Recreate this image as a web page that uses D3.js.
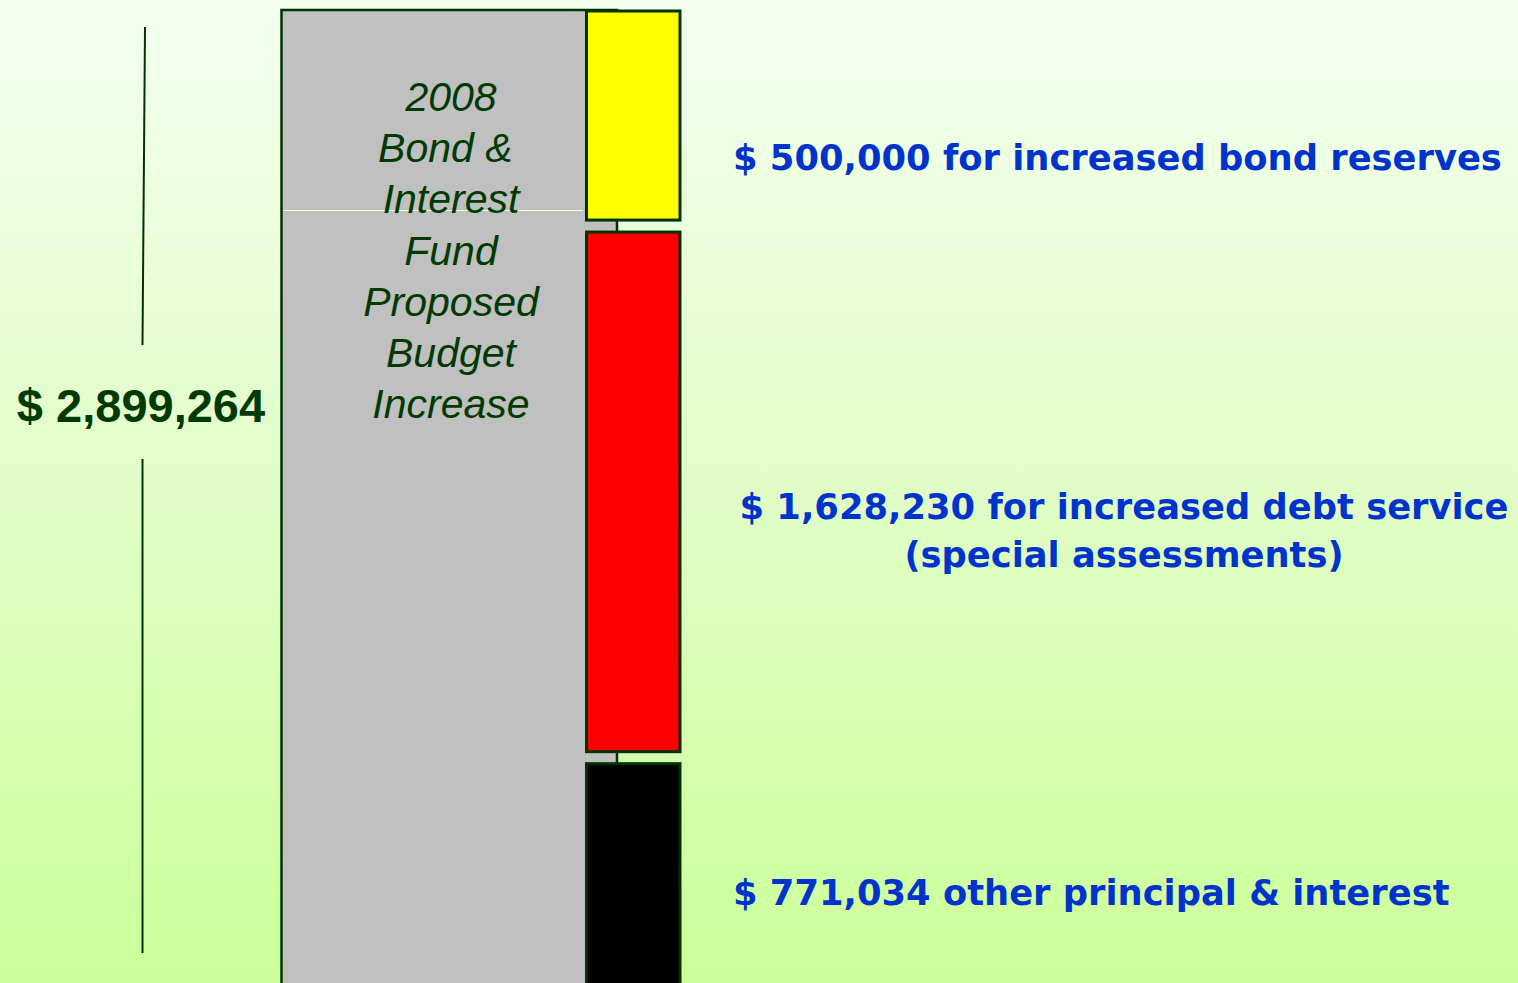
<!DOCTYPE html>
<html>
<head>
<meta charset="utf-8">
<script src="https://cdn.jsdelivr.net/npm/d3@7"></script>
<style>
  html, body { margin: 0; padding: 0; overflow: hidden; }
  svg { display: block; }
</style>
</head>
<body>
<svg id="chart" width="1518" height="983"></svg>
<script>
// ---- data ----
const categories = ["bond reserves", "debt service", "other principal & interest"];
const values = [500000, 1628230, 771034];
const colors = ["#ffff00", "#ff0000", "#000000"];
const labelLines = [
  ["$ 500,000 for increased bond reserves"],
  ["$ 1,628,230 for increased debt service", "(special assessments)"],
  ["$ 771,034 other principal & interest"]
];
const totalLabel = "$ 2,899,264";
const titleLines = ["2008", "Bond & ", "Interest", "Fund", "Proposed", "Budget", "Increase"];

// ---- layout ----
const W = 1518, H = 983;
const dark = "#003300";
const textDark = "#003a00";
const blue = "#0033cc";
const svg = d3.select("#chart");

const defs = svg.append("defs");
const grad = defs.append("linearGradient").attr("id", "bg").attr("x1", 0).attr("y1", 0).attr("x2", 0).attr("y2", 1);
grad.append("stop").attr("offset", "0%").attr("stop-color", "#f4fff0");
grad.append("stop").attr("offset", "50%").attr("stop-color", "#e0fdc6");
grad.append("stop").attr("offset", "100%").attr("stop-color", "#ccff99");
svg.append("rect").attr("width", W).attr("height", H).attr("fill", "url(#bg)");

const total = d3.sum(values);
const cum = Array.from(d3.cumsum(values));
const starts = [0, ...cum.slice(0, -1)];

const barTop = 10;
const y = d3.scalePow().exponent(0.857).domain([0, total]).range([barTop, barTop + 974.5]);
const pad = 6;

// gray bar
const grayX = d3.scaleLinear().domain([0, 1]).range([281.5, 617]);
svg.append("rect")
  .attr("x", grayX(0)).attr("y", y(0))
  .attr("width", grayX(1) - grayX(0)).attr("height", 1200)
  .attr("fill", "#c0c0c0").attr("stroke", dark).attr("stroke-width", 2.5);

// thin light line across gray bar
svg.append("line")
  .attr("x1", grayX(0) + 2).attr("x2", 583)
  .attr("y1", 210.5).attr("y2", 210.5)
  .attr("stroke", "#eaffd8").attr("stroke-width", 1);

// segments
const segX = d3.scaleBand().domain(["seg"]).range([586.5, 680]);
const segs = categories.map((c, i) => ({
  cat: c, value: values[i], color: colors[i],
  y0: y(starts[i]) + (i === 0 ? 1 : pad),
  y1: i === values.length - 1 ? y(cum[i]) : y(cum[i]) - pad
}));
svg.selectAll("rect.seg").data(segs).join("rect")
  .attr("class", "seg")
  .attr("x", segX("seg")).attr("width", segX.bandwidth())
  .attr("y", d => d.y0).attr("height", d => d.y1 - d.y0)
  .attr("fill", d => d.color)
  .attr("stroke", dark).attr("stroke-width", 3);

// title text in gray bar
const title = svg.append("text")
  .attr("text-anchor", "middle")
  .attr("font-family", "'Liberation Sans', Arial, sans-serif")
  .attr("font-style", "italic")
  .attr("font-size", 41)
  .attr("fill", textDark)
  .style("white-space", "pre");
titleLines.forEach((t, i) => {
  title.append("tspan").attr("x", 451).attr("y", 111 + i * 51.2).text(t);
});

// dimension line and total
svg.append("line").attr("x1", 145).attr("y1", 27).attr("x2", 142.5).attr("y2", 345)
  .attr("stroke", dark).attr("stroke-width", 2);
svg.append("line").attr("x1", 142.5).attr("y1", 459).attr("x2", 142.5).attr("y2", 953)
  .attr("stroke", dark).attr("stroke-width", 2);
svg.append("text")
  .attr("x", 141).attr("y", 422)
  .attr("text-anchor", "middle")
  .attr("font-family", "'Liberation Sans', Arial, sans-serif")
  .attr("font-weight", "bold")
  .attr("font-size", 47)
  .attr("fill", textDark)
  .text(totalLabel);

// right labels
const labelPos = [
  { x: 733, y: 170, anchor: "start" },
  { x: 1124, y: 519, anchor: "middle" },
  { x: 733, y: 905, anchor: "start" }
];
labelLines.forEach((lines, i) => {
  const t = svg.append("text")
    .attr("font-family", "'DejaVu Sans', Verdana, sans-serif")
    .attr("font-weight", "bold")
    .attr("font-size", 35.3)
    .attr("fill", blue)
    .attr("text-anchor", labelPos[i].anchor);
  lines.forEach((l, j) => {
    t.append("tspan").attr("x", labelPos[i].x).attr("y", labelPos[i].y + j * 48).text(l);
  });
});
</script>
</body>
</html>
